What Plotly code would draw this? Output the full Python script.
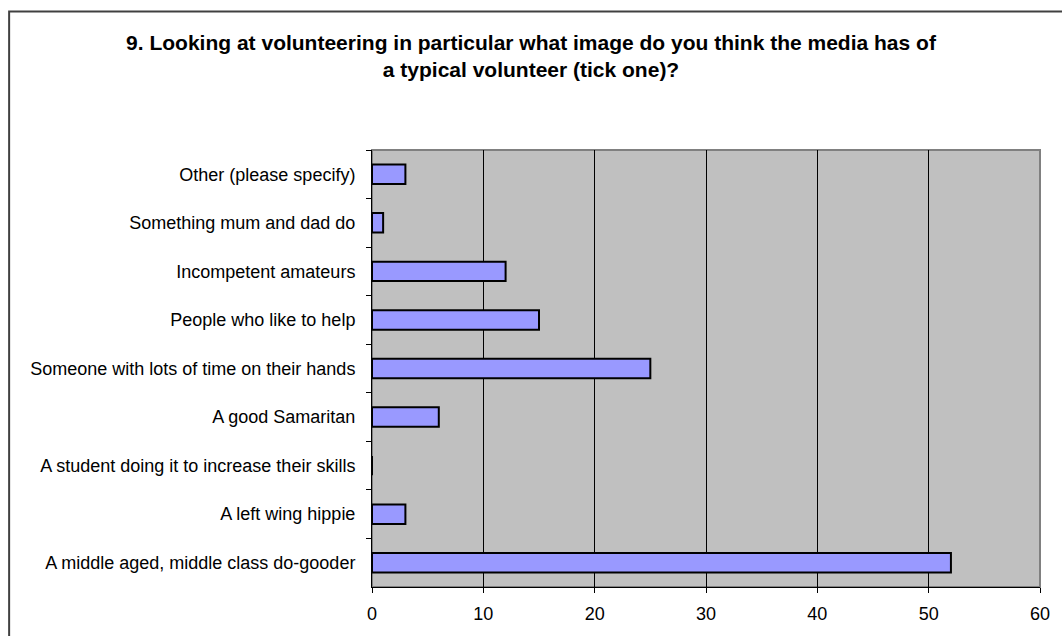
import plotly.graph_objects as go

categories = [
    "Other (please specify)",
    "Something mum and dad do",
    "Incompetent amateurs",
    "People who like to help",
    "Someone with lots of time on their hands",
    "A good Samaritan",
    "A student doing it to increase their skills",
    "A left wing hippie",
    "A middle aged, middle class do-gooder",
]
values = [3, 1, 12, 15, 25, 6, 0, 3, 52]
x_ticks = [0, 10, 20, 30, 40, 50, 60]

title_text = ("9. Looking at volunteering in particular what image do you think the media has of<br>"
              "a typical volunteer (tick one)?")

W, H = 1062, 636
L, R, T, B = 372, 1043, 150, 603
pw, ph = R - L, B - T

FONT = "Liberation Sans, Arial, sans-serif"

fig = go.Figure(go.Bar(
    y=categories, x=values, orientation="h",
    marker=dict(color="#9999FF", line=dict(color="black", width=2)),
    width=0.4,
))

def px_to_paper_x(px):
    return (px - L) / pw

def px_to_paper_y(py):
    return (B - py) / ph

fx0 = px_to_paper_x(7.5)
fx1 = px_to_paper_x(W + 20)
fy_top = px_to_paper_y(6.5)
fy_bot = px_to_paper_y(H + 20)

fig.update_layout(
    width=W, height=H,
    margin=dict(l=L, r=W - R, t=T, b=H - B),
    paper_bgcolor="white",
    plot_bgcolor="#C0C0C0",
    font=dict(family=FONT, color="black", size=18),
    title=dict(text="<b>" + title_text + "</b>", x=531 / W, xref="container", xanchor="center",
               y=1 - 50 / H, yanchor="middle", yref="container",
               font=dict(size=21, family=FONT)),
    xaxis=dict(range=[0, 60], tickvals=x_ticks, showgrid=True, gridcolor="black", gridwidth=1,
               showline=True, linecolor="black", linewidth=1, ticks="outside", ticklen=5,
               tickcolor="black", zeroline=False, fixedrange=True,
               ticklabelstandoff=5, tickfont=dict(size=18)),
    yaxis=dict(autorange="reversed", showline=True, linecolor="black", linewidth=1,
               ticks="outside", ticklen=5, tickcolor="black", tickson="boundaries",
               showgrid=False, ticklabelstandoff=12, tickfont=dict(size=18), fixedrange=True),
    bargap=0.6,
    showlegend=False,
    shapes=[
        dict(type="path", xref="paper", yref="paper",
             path=f"M {fx0},{fy_bot} L {fx0},{fy_top} L {fx1},{fy_top}",
             line=dict(color="#404040", width=2), layer="below"),
        dict(type="rect", xref="paper", yref="paper", x0=0, x1=1, y0=0, y1=1,
             line=dict(color="#808080", width=2), fillcolor="rgba(0,0,0,0)", layer="below"),
    ],
)

fig.write_html("out.html", config={"displayModeBar": False},
               post_script="document.body.style.margin='0';")
